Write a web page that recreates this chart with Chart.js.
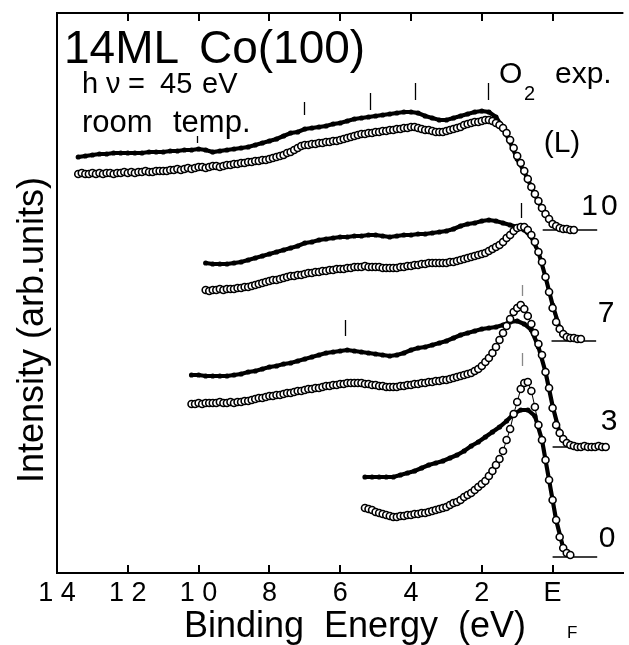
<!DOCTYPE html>
<html><head><meta charset="utf-8">
<script src="https://cdn.jsdelivr.net/npm/chart.js@4"></script>
<style>html,body{margin:0;padding:0;background:#fff;overflow:hidden}canvas{display:block}</style>
</head><body><canvas id="c" width="629" height="645"></canvas>
<script>
// ---------- data (binding energy in eV, intensity in arb. units) ----------
const tickValues = [14, 12, 10, 8, 6, 4, 2, 0];
const tickLabels = ['1 4', '1 2', '1 0', '8', '6', '4', '2', 'E'];
const exposures = ['10', '7', '3', '0'];

const openStep = 0.1, filledStep = 0.2;
const start10 = 13.4, start7 = 9.8, start3 = 10.2, start0 = 5.3;

const open10 = [399,400,399,399,400,
399,400,399,400,400,399,400,400,401,400,
401,400,401,401,402,401,401,402,402,402,
402,403,403,404,403,404,405,404,405,406,
406,405,406,407,407,406,407,408,408,409,
409,410,410,411,411,412,412,413,413,414,
415,416,417,418,420,421,423,425,427,428,
428,429,429,430,430,431,431,432,432,433,
434,435,436,437,438,439,439,440,440,441,
441,442,442,443,443,444,444,445,445,446,
446,445,444,443,443,442,441,441,441,442,
443,444,445,446,448,449,450,451,451,452,
453,453,452,450,448,445,440,433,425,417,
410,402,394,386,379,372,365,359,354,349,
347,345,344,344,343,343];
const filled10 = [416,417,418,419,419,420,420,420,420,420,421,421,421,422,422,423,423,424,
423,421,422,423,424,425,426,428,430,432,434,437,440,441,444,445,446,447,449,450,
452,454,455,456,457,458,459,460,461,461,460,457,455,453,453,455,457,459,461,462,
461,456,445,431,414,401,386,371,359,350,346,344,343];

const open7 = [283,282,283,283,284,283,284,284,284,
285,285,286,286,287,288,289,290,291,292,
293,293,294,295,296,297,297,298,298,299,
300,300,301,301,302,302,303,303,304,304,
304,305,305,306,306,306,307,306,306,306,
306,305,305,305,305,305,306,306,307,307,
308,308,309,309,310,310,310,310,310,310,
311,311,312,313,314,315,316,317,318,319,
320,322,324,326,328,331,335,338,342,345,
346,346,343,338,331,321,311,296,281,265,
251,244,239,236,235,235,234,234];
const filled7 = [310,309,309,309,310,311,313,315,317,319,321,323,325,327,330,331,333,334,335,336,
336,337,337,338,338,337,336,337,338,338,339,339,340,341,342,344,347,349,350,352,
353,352,350,348,346,343,336,321,296,268,245,237,235,234];

const open3 = [169,169,170,
169,170,170,170,170,171,170,170,171,170,
171,171,172,172,173,174,175,175,176,177,
177,178,178,179,180,180,181,182,182,183,
184,184,185,185,186,187,187,188,188,189,
189,190,190,190,190,190,189,189,188,188,
187,187,186,186,186,186,187,187,188,188,
189,189,190,190,191,191,192,192,193,193,
194,195,196,197,198,199,200,202,204,207,
211,215,220,226,233,240,247,254,261,265,
268,264,257,249,240,229,218,201,185,165,
148,140,134,130,128,127,126,126,127,126,126,126,127,126,126];
const filled3 = [198,198,197,197,197,197,198,199,201,202,204,206,207,209,210,212,214,216,218,220,
221,222,223,222,221,220,219,218,217,218,220,223,225,226,228,230,232,235,238,240,
242,244,245,246,248,251,252,249,243,226,201,167,140,130,127,126,126,126,126];

const open0 = [65,64,63,61,60,59,58,57,56,56,
57,57,58,58,59,59,60,60,61,62,
63,64,65,66,68,70,71,73,76,78,
80,83,86,89,92,97,102,108,114,122,
133,144,159,171,184,190,191,182,166,148,
133,113,93,73,53,36,25,20,18];
const filled0 = [96,96,96,96,96,98,100,102,105,108,110,112,115,118,122,127,131,136,141,146,152,159,163,163,157,133,93,53,25,18];

// zero lines of each spectrum
const baseLevel = [343, 232, 126, 16];
const baseFrom  = [0.28, 0.03, 0, 0];
const baseTo    = [-1.26, -1.23, -1.5, -1.26];

// peak markers
const markerE  = [10.04, 7.02, 5.17, 3.89, 1.82, 0.90, 0.87, 5.87, 0.87];
const markerLo = [430, 458, 463, 473, 473, 355, 277, 237, 207];
const markerHi = [437, 471, 480, 490, 490, 370, 288, 253, 220];
const markerFaint = [0, 0, 0, 0, 0, 0, 1, 0, 1];

// ---------- build ----------
function pts(start, step, vals) {
  return vals.map((v, i) => ({ x: +(start - i * step).toFixed(2), y: v }));
}
const FONT = '"Liberation Sans", Arial, Helvetica, sans-serif';

const filledStyle = {
  showLine: true, borderColor: '#000', borderWidth: 4.2, pointRadius: 2.6,
  pointBackgroundColor: '#000', pointBorderWidth: 0, pointStyle: 'circle', order: 2
};
const openStyle = {
  showLine: true, borderColor: '#000', borderWidth: 1, pointRadius: 3.5,
  pointBackgroundColor: '#fff', pointBorderColor: '#000', pointBorderWidth: 1.6, order: 1
};
const datasets = [];
[[start10, filled10, open10], [start7, filled7, open7], [start3, filled3, open3], [start0, filled0, open0]]
  .forEach(([s, f, o]) => {
    datasets.push(Object.assign({ data: pts(s, filledStep, f) }, filledStyle));
    datasets.push(Object.assign({ data: pts(s, openStep, o) }, openStyle));
  });
baseLevel.forEach((lv, i) => {
  datasets.push({ showLine: true, data: [{ x: baseFrom[i], y: lv }, { x: baseTo[i], y: lv }],
    borderColor: '#000', borderWidth: 1.3, pointRadius: 0, order: 3 });
});

const deco = {
  id: 'deco',
  afterDatasetsDraw(chart) {
    const { ctx, scales: { x, y } } = chart;
    ctx.save();
    markerE.forEach((e, i) => {
      const px = Math.round(x.getPixelForValue(e)) + 0.5;
      ctx.strokeStyle = markerFaint[i] ? '#888' : '#000';
      ctx.lineWidth = 1.3;
      ctx.beginPath();
      ctx.moveTo(px, y.getPixelForValue(markerLo[i]));
      ctx.lineTo(px, y.getPixelForValue(markerHi[i]));
      ctx.stroke();
    });
    ctx.restore();
  },
  afterDraw(chart) {
    const { ctx, chartArea: a, scales: { x } } = chart;
    ctx.save();
    ctx.strokeStyle = '#000';
    ctx.lineWidth = 2;
    ctx.beginPath();
    ctx.moveTo(a.left - 1, a.top); ctx.lineTo(a.right, a.top);
    ctx.stroke();
    tickValues.forEach(v => {
      const px = Math.round(x.getPixelForValue(v));
      ctx.beginPath();
      ctx.moveTo(px, a.bottom); ctx.lineTo(px, a.bottom - 8);
      ctx.moveTo(px, a.top); ctx.lineTo(px, a.top + 8);
      ctx.stroke();
    });
    ctx.fillStyle = '#000';
    ctx.textBaseline = 'alphabetic';
    ctx.textAlign = 'left';
    ctx.font = '46px ' + FONT; ctx.fillText('14ML', 64, 63); ctx.fillText('Co(100)', 199, 63);
    ctx.font = '29px ' + FONT;
    ctx.fillText('h', 82, 93); ctx.fillText('\u03bd', 106, 93); ctx.fillText('=', 128, 93);
    ctx.fillText('45', 160, 93); ctx.fillText('eV', 202, 93);
    ctx.font = '31px ' + FONT; ctx.fillText('room', 82, 132); ctx.fillText('temp.', 173, 132);
    ctx.font = '30px ' + FONT; ctx.fillText('O', 499, 83);
    ctx.font = '20px ' + FONT; ctx.fillText('2', 524, 100);
    ctx.font = '30px ' + FONT; ctx.fillText('exp.', 555, 83);
    ctx.textAlign = 'center';
    ctx.font = '30px ' + FONT; ctx.fillText('(L)', 562, 152);
    const labX = [601, 606, 609, 607], labY = [215, 322, 430, 547];
    exposures.forEach((t, i) => {
      ctx.font = '30px ' + FONT;
      ctx.letterSpacing = t.length > 1 ? '3px' : '0px';
      ctx.fillText(t, labX[i], labY[i]);
    });
    ctx.letterSpacing = '0px';
    ctx.font = '36px ' + FONT; ctx.fillText('Binding  Energy  (eV)', 355, 637);
    ctx.textAlign = 'left';
    ctx.font = '17px ' + FONT; ctx.fillText('F', 567, 638);
    ctx.translate(43, 330); ctx.rotate(-Math.PI / 2);
    ctx.textAlign = 'center';
    ctx.font = '36px ' + FONT; ctx.fillText('Intensity (arb.units)', 0, 0);
    ctx.restore();
  }
};

new Chart(document.getElementById('c'), {
  type: 'scatter',
  data: { datasets },
  options: {
    responsive: false, animation: false, devicePixelRatio: 1,
    layout: { padding: { top: 13, left: 0, right: 0, bottom: 0 } },
    plugins: { legend: { display: false }, tooltip: { enabled: false } },
    scales: {
      x: {
        type: 'linear', min: -2, max: 14, reverse: true,
        afterBuildTicks: s => { s.ticks = tickValues.map(v => ({ value: v })); },
        afterFit: s => { s.height = 72; },
        ticks: { color: '#000', padding: 4, maxRotation: 0, autoSkip: false,
          font: { family: FONT, size: 27 },
          callback: v => { const i = tickValues.indexOf(v); return i >= 0 ? tickLabels[i] : ''; } },
        grid: { display: false, drawTicks: false },
        border: { display: true, color: '#000', width: 2 }
      },
      y: {
        min: 0, max: 560,
        afterFit: s => { s.width = 57; },
        ticks: { display: false },
        grid: { display: false, drawTicks: false },
        border: { display: true, color: '#000', width: 2 }
      }
    }
  },
  plugins: [deco]
});
</script></body></html>
